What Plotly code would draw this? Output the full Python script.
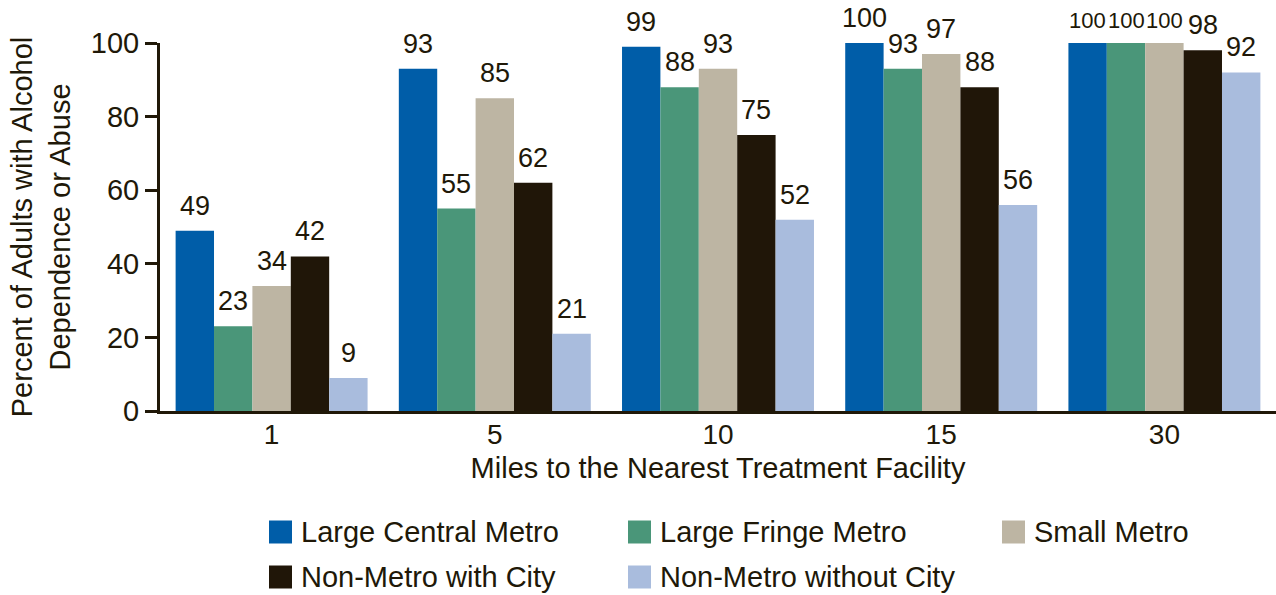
import plotly.graph_objects as go

# Distance bands (miles) and share of adults within that distance of a facility
categories = ["1", "5", "10", "15", "30"]
series_names = [
    "Large Central Metro",
    "Large Fringe Metro",
    "Small Metro",
    "Non-Metro with City",
    "Non-Metro without City",
]
large_central = [49, 93, 99, 100, 100]
large_fringe = [23, 55, 88, 93, 100]
small_metro = [34, 85, 93, 97, 100]
nonmetro_city = [42, 62, 75, 88, 98]
nonmetro_no_city = [9, 21, 52, 56, 92]
y_ticks = [0, 20, 40, 60, 80, 100]

series_values = [large_central, large_fringe, small_metro, nonmetro_city, nonmetro_no_city]
colors = ["#005DA8", "#4A9679", "#BDB5A3", "#201608", "#A9BCDD"]
ink = "#201808"
font_family = "Liberation Sans, Arial, sans-serif"

W, H = 1276, 595
M_L, M_R, M_T, M_B = 160, 0, 43, 184
BARGAP = 0.14

fig = go.Figure()
for name, vals, col in zip(series_names, series_values, colors):
    fig.add_trace(go.Bar(
        x=categories, y=vals, name=name,
        marker=dict(color=col, line=dict(width=0)),
        showlegend=False,
    ))

# value labels above each bar; crowded three-digit labels in the last
# group are set smaller so neighbours don't collide
n = len(series_values)
bar_w = (1 - BARGAP) / n
annotations = []
for i, vals in enumerate(series_values):
    offset = (i - (n - 1) / 2) * bar_w
    for j, v in enumerate(vals):
        crowded = j == len(categories) - 1 and v >= 100
        annotations.append(dict(
            x=j + offset, y=v, xref="x", yref="y",
            text=str(v), showarrow=False,
            yanchor="bottom", xanchor="center", yshift=8,
            font=dict(size=22 if crowded else 27, color=ink, family=font_family),
        ))

# custom legend: square swatches with labels, three per row
plot_w = W - M_L - M_R
plot_h = H - M_T - M_B
def px_x(px):
    return (px - M_L) / plot_w
def px_y(py):
    return (H - M_B - py) / plot_h

legend_cols = [269, 628, 1002]
legend_rows = [532, 577]
sw_w, sw_h = 23, 23
shapes = []
for k, (name, col) in enumerate(zip(series_names, colors)):
    cx = legend_cols[k % 3]
    cy = legend_rows[k // 3]
    shapes.append(dict(
        type="rect", xref="paper", yref="paper",
        x0=px_x(cx), x1=px_x(cx + sw_w),
        y0=px_y(cy + sw_h / 2), y1=px_y(cy - sw_h / 2),
        fillcolor=col, line=dict(width=0),
    ))
    annotations.append(dict(
        x=px_x(cx + sw_w + 7), y=px_y(cy), xref="paper", yref="paper",
        text=name, showarrow=False, xanchor="left", yanchor="middle",
        font=dict(size=29, color=ink, family=font_family),
    ))

fig.update_layout(
    width=W, height=H,
    margin=dict(l=M_L, r=M_R, t=M_T, b=M_B),
    paper_bgcolor="white", plot_bgcolor="white",
    barmode="group", bargap=BARGAP, bargroupgap=0,
    font=dict(family=font_family, color=ink, size=29),
    annotations=annotations, shapes=shapes,
    showlegend=False,
)
fig.update_xaxes(
    type="category", range=[-0.5, 4.5],
    showline=True, linecolor=ink, linewidth=3,
    ticks="", showgrid=False, zeroline=False,
    tickfont=dict(size=28, color=ink),
    ticklabelstandoff=-4,
    title=dict(text="Miles to the Nearest Treatment Facility",
               font=dict(size=29, color=ink), standoff=10),
)
fig.update_yaxes(
    range=[0, 100], tickvals=y_ticks,
    showline=True, linecolor=ink, linewidth=3,
    ticks="outside", ticklen=12, tickwidth=3, tickcolor=ink,
    showgrid=False, zeroline=False,
    tickfont=dict(size=29, color=ink),
    title=dict(text="Percent of Adults with Alcohol<br>Dependence or Abuse",
               font=dict(size=29, color=ink), standoff=12),
)

fig.write_html("out.html")
